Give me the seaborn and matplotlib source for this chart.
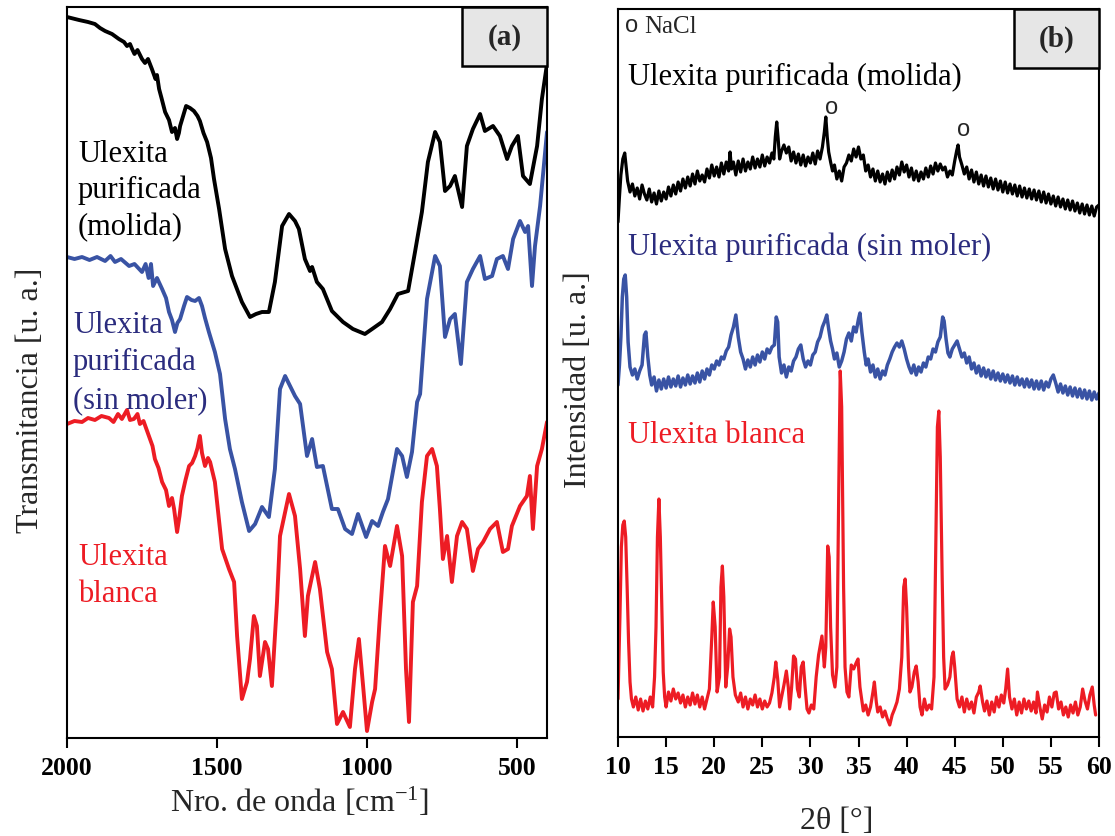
import matplotlib
matplotlib.use("Agg")
import matplotlib.pyplot as plt
import seaborn as sns
from matplotlib.patches import Rectangle

# ---------------- data: FTIR (panel a) ----------------
ftir_molida_w = [2000, 1960, 1930, 1907, 1890, 1873, 1850, 1827, 1810, 1800, 1790, 1783, 1775, 1765, 1750,
                 1740, 1730, 1717, 1705, 1700, 1693, 1685, 1673, 1660, 1650, 1640, 1633, 1627, 1623, 1603,
                 1590, 1577, 1565, 1557, 1545, 1533, 1520, 1510, 1493, 1473, 1450, 1417, 1390, 1370, 1350,
                 1327, 1307, 1283, 1260, 1240, 1227, 1207, 1190, 1183, 1167, 1147, 1117, 1080, 1047, 1007,
                 983, 950, 923, 897, 863, 840, 817, 797, 773, 757, 740, 723, 707, 683, 667, 647, 623, 607,
                 580, 557, 533, 517, 497, 480, 457, 433, 417, 400]
ftir_molida_t = [721, 718, 716, 714, 710, 707, 704, 699, 696, 692, 694, 689, 684, 688, 679,
                 675, 679, 669, 659, 663, 649, 640, 626, 618, 606, 610, 599, 605, 612, 632,
                 630, 627, 622, 617, 605, 596, 580, 559, 529, 489, 462, 436, 421, 424, 426,
                 426, 456, 512, 524, 517, 509, 479, 467, 471, 456, 449, 427, 416, 409, 404,
                 409, 416, 429, 444, 447, 486, 526, 576, 606, 596, 547, 552, 562, 531, 592, 609, 624, 607,
                 612, 602, 579, 592, 602, 562, 554, 592, 639, 674]

ftir_sinmoler_w = [2000, 1975, 1950, 1925, 1900, 1873, 1855, 1840, 1820, 1793, 1775, 1750, 1738, 1728, 1720,
                   1713, 1700, 1683, 1670, 1660, 1650, 1640, 1632, 1623, 1610, 1600, 1585, 1573, 1560, 1550,
                   1540, 1527, 1507, 1490, 1473, 1457, 1440, 1417, 1393, 1373, 1350, 1327, 1307, 1290, 1273,
                   1240, 1223, 1200, 1183, 1167, 1147, 1117, 1097, 1073, 1050, 1030, 1003, 983, 963, 947,
                   930, 900, 883, 867, 850, 833, 823, 800, 773, 757, 740, 723, 707, 687, 667, 647, 623, 607,
                   583, 567, 547, 530, 513, 490, 473, 463, 450, 440, 423, 400]
ftir_sinmoler_t = [481, 479, 481, 478, 481, 477, 482, 476, 479, 472, 474, 466, 474, 460, 474,
                   452, 460, 449, 440, 426, 418, 406, 415, 419, 432, 441, 438, 437, 440, 432,
                   420, 406, 386, 364, 319, 289, 269, 236, 207, 214, 231, 221, 269, 349, 362,
                   342, 334, 282, 299, 271, 272, 229, 229, 209, 204, 224, 201, 217, 212, 226,
                   239, 289, 282, 261, 286, 336, 344, 439, 482, 472, 401, 419, 424, 374, 456, 469, 482, 459,
                   462, 479, 482, 469, 499, 517, 506, 512, 452, 492, 532, 606]

ftir_blanca_w = [2000, 1975, 1950, 1930, 1907, 1885, 1860, 1845, 1830, 1817, 1800, 1790, 1777, 1765, 1757,
                 1745, 1727, 1715, 1707, 1695, 1683, 1670, 1660, 1650, 1643, 1633, 1625, 1617, 1605, 1593,
                 1583, 1573, 1565, 1557, 1550, 1540, 1530, 1523, 1507, 1483, 1460, 1443, 1433, 1417, 1400,
                 1390, 1377, 1367, 1357, 1340, 1330, 1317, 1300, 1290, 1260, 1240, 1223, 1207, 1197, 1173,
                 1157, 1133, 1117, 1100, 1080, 1057, 1040, 1027, 1013, 1000, 983, 973, 957, 940, 923,
                 900, 883, 870, 860, 847, 833, 817, 800, 783, 767, 757, 747, 733, 717, 700,
                 683, 667, 647, 630, 613, 590, 567, 547, 530, 517, 490, 467, 457, 447, 433, 417, 400]
ftir_blanca_t = [314, 317, 316, 320, 318, 322, 320, 316, 324, 319, 328, 318, 319, 324, 314,
                 317, 302, 292, 279, 270, 256, 248, 232, 240, 229, 206, 222, 242, 258, 272,
                 275, 282, 290, 302, 285, 272, 280, 276, 256, 189, 169, 156, 102, 39, 56,
                 79, 122, 112, 62, 96, 89, 52, 136, 202, 244, 222, 169, 102, 142, 176,
                 149, 86, 69, 14, 26, 11, 69, 99, 52, 7, 36, 49, 122, 192, 172,
                 212, 182, 69, 16, 136, 152, 236, 282, 289, 272, 229, 179, 202, 156, 202,
                 216, 209, 167, 189, 196, 209, 216, 186, 189, 212, 232, 242, 262, 209, 272, 289, 316]

ftir_ticks = [2000, 1500, 1000, 500]

# ---------------- data: XRD (panel b) ----------------
xrd_molida_2t = [10.0, 10.15, 10.3, 10.5, 10.7, 10.85, 11.0, 11.25, 11.5, 11.75, 12.0, 12.25, 12.5, 12.75,
                 13.0, 13.25, 13.5, 13.75, 14.0, 14.25, 14.5, 14.75, 15.0, 15.25, 15.5, 15.75, 16.0, 16.25,
                 16.5, 16.75, 17.0, 17.25, 17.5, 17.75, 18.0, 18.25, 18.5, 18.75, 19.0, 19.25, 19.5, 19.75,
                 20.0, 20.25, 20.5, 20.75, 21.0, 21.25, 21.5, 21.65, 21.8, 22.0, 22.25, 22.5, 22.75, 23.0,
                 23.25, 23.5, 23.75, 24.0, 24.25, 24.5, 24.75, 25.0, 25.25, 25.5, 25.75, 26.0, 26.2, 26.35,
                 26.5, 26.65, 26.8, 27.0, 27.25, 27.5, 27.75, 28.0, 28.25, 28.5, 28.75, 29.0, 29.25, 29.5,
                 29.75, 30.0, 30.25, 30.5, 30.75, 31.0, 31.25, 31.45, 31.6, 31.75, 31.9, 32.1, 32.3, 32.5,
                 32.75, 33.0, 33.25, 33.5, 33.75, 34.0, 34.25, 34.5, 34.75, 35.0, 35.25, 35.5, 35.75, 36.0,
                 36.25, 36.5, 36.75, 37.0, 37.25, 37.5, 37.75, 38.0, 38.25, 38.5, 38.75, 39.0, 39.25, 39.5,
                 39.75, 40.0, 40.25, 40.5, 40.75, 41.0, 41.25, 41.5, 41.75, 42.0, 42.25, 42.5, 42.75, 43.0,
                 43.25, 43.5, 43.75, 44.0, 44.25, 44.5, 44.75, 45.0, 45.2, 45.35, 45.5, 45.75, 46.0, 46.25,
                 46.5, 46.75, 47.0, 47.25, 47.5, 47.75, 48.0, 48.25, 48.5, 48.75, 49.0, 49.25, 49.5, 49.75,
                 50.0, 50.25, 50.5, 50.75, 51.0, 51.25, 51.5, 51.75, 52.0, 52.25, 52.5, 52.75, 53.0, 53.25,
                 53.5, 53.75, 54.0, 54.25, 54.5, 54.75, 55.0, 55.25, 55.5, 55.75, 56.0, 56.25, 56.5, 56.75,
                 57.0, 57.25, 57.5, 57.75, 58.0, 58.25, 58.5, 58.75, 59.0, 59.25, 59.5, 59.75, 60.0]
xrd_molida_i = [515, 540, 562, 578, 584, 570, 556, 545, 553, 541, 549, 538, 552, 543,
                537, 548, 535, 544, 533, 546, 536, 545, 538, 550, 541, 552, 543, 555,
                546, 558, 549, 560, 551, 563, 553, 566, 556, 562, 555, 568, 559, 572,
                561, 570, 560, 574, 563, 575, 566, 585, 568, 575, 562, 576, 565, 578,
                566, 575, 568, 580, 569, 578, 570, 582, 571, 580, 574, 584, 578, 600,
                615, 598, 578, 586, 592, 584, 590, 576, 585, 574, 583, 572, 582, 571,
                580, 574, 584, 573, 586, 578, 590, 605, 620, 600, 585, 575, 566, 572,
                558, 566, 556, 570, 574, 582, 576, 588, 580, 590, 578, 582, 566, 572,
                560, 568, 556, 566, 555, 563, 553, 565, 556, 567, 558, 570, 562, 575,
                565, 572, 560, 569, 557, 566, 556, 565, 558, 569, 560, 571, 563, 574,
                566, 573, 567, 570, 560, 566, 562, 576, 586, 592, 580, 572, 563, 570,
                558, 567, 555, 565, 553, 562, 551, 561, 550, 559, 548, 558, 547, 556,
                545, 555, 544, 553, 543, 552, 541, 551, 540, 549, 539, 548, 538, 547,
                537, 546, 535, 545, 534, 543, 533, 541, 531, 540, 530, 538, 528, 537,
                527, 536, 526, 534, 524, 533, 523, 532, 522, 531, 521, 530, 532]

xrd_sinmoler_2t = [10.0, 10.15, 10.3, 10.45, 10.6, 10.75, 10.9, 11.05, 11.25, 11.5, 11.75, 12.0, 12.25, 12.5,
                   12.75, 12.9, 13.1, 13.3, 13.5, 13.75, 14.0, 14.25, 14.5, 14.75, 15.0, 15.25, 15.5, 15.75,
                   16.0, 16.25, 16.5, 16.75, 17.0, 17.25, 17.5, 17.75, 18.0, 18.25, 18.5, 18.75, 19.0, 19.25,
                   19.5, 19.75, 20.0, 20.25, 20.5, 20.75, 21.0, 21.25, 21.5, 21.75, 22.0, 22.25, 22.5, 22.75,
                   23.0, 23.25, 23.5, 23.75, 24.0, 24.25, 24.5, 24.75, 25.0, 25.25, 25.5, 25.75, 26.0, 26.25,
                   26.45, 26.6, 26.75, 27.0, 27.25, 27.5, 27.75, 28.0, 28.25, 28.5, 28.75, 29.0, 29.25, 29.5,
                   29.75, 30.0, 30.25, 30.5, 30.75, 31.0, 31.25, 31.5, 31.7, 31.9, 32.1, 32.3, 32.5, 32.75,
                   33.0, 33.25, 33.5, 33.75, 34.0, 34.25, 34.5, 34.75, 35.0, 35.15, 35.35, 35.6, 35.8, 36.0,
                   36.25, 36.5, 36.75, 37.0, 37.25, 37.5, 37.75, 38.0, 38.25, 38.5, 38.75, 39.0, 39.25, 39.5,
                   39.75, 40.0, 40.25, 40.5, 40.75, 41.0, 41.25, 41.5, 41.75, 42.0, 42.25, 42.5, 42.75, 43.0,
                   43.25, 43.5, 43.75, 43.9, 44.1, 44.3, 44.5, 44.75, 45.0, 45.25, 45.5, 45.75, 46.0, 46.25,
                   46.5, 46.75, 47.0, 47.25, 47.5, 47.75, 48.0, 48.25, 48.5, 48.75, 49.0, 49.25, 49.5, 49.75,
                   50.0, 50.25, 50.5, 50.75, 51.0, 51.25, 51.5, 51.75, 52.0, 52.25, 52.5, 52.75, 53.0, 53.25,
                   53.5, 53.75, 54.0, 54.25, 54.5, 54.75, 55.0, 55.25, 55.5, 55.75, 56.0, 56.25, 56.5, 56.75,
                   57.0, 57.25, 57.5, 57.75, 58.0, 58.25, 58.5, 58.75, 59.0, 59.25, 59.5, 59.75, 60.0]
xrd_sinmoler_i = [352, 372, 400, 440, 458, 462, 440, 395, 370, 362, 368, 358, 366, 372,
                  402, 405, 380, 362, 352, 360, 346, 357, 348, 358, 349, 360, 350, 358,
                  351, 361, 350, 359, 352, 362, 353, 361, 354, 364, 355, 366, 358, 368,
                  362, 372, 368, 376, 372, 380, 378, 386, 390, 402, 410, 422, 400, 385,
                  378, 368, 377, 370, 380, 372, 382, 375, 385, 378, 388, 384, 390, 392,
                  420, 415, 380, 364, 372, 360, 370, 366, 376, 380, 388, 392, 378, 370,
                  376, 372, 382, 385, 395, 400, 410, 416, 422, 408, 396, 388, 378, 384,
                  370, 376, 385, 398, 404, 396, 410, 405, 418, 424, 405, 385, 372, 378,
                  365, 372, 360, 368, 358, 366, 362, 372, 378, 385, 390, 394, 390, 396,
                  388, 378, 370, 364, 372, 362, 370, 365, 374, 370, 380, 378, 388, 385,
                  395, 400, 420, 416, 398, 384, 380, 388, 392, 396, 388, 380, 384, 374,
                  380, 368, 374, 364, 371, 361, 369, 360, 367, 358, 366, 357, 364, 356,
                  363, 355, 362, 354, 361, 352, 360, 352, 358, 350, 358, 350, 357, 348,
                  356, 348, 356, 347, 355, 350, 358, 362, 354, 345, 353, 344, 351, 342,
                  350, 341, 349, 340, 348, 339, 347, 338, 346, 337, 345, 338, 344]

xrd_blanca_2t = [10.0, 10.1, 10.2, 10.35, 10.5, 10.65, 10.8, 10.95, 11.1, 11.25, 11.4, 11.6, 11.85, 12.1,
                 12.35, 12.6, 12.85, 13.1, 13.35, 13.6, 13.8, 13.95, 14.1, 14.25, 14.4, 14.55, 14.7, 14.85,
                 15.0, 15.25, 15.5, 15.75, 16.0, 16.25, 16.5, 16.75, 17.0, 17.25, 17.5, 17.75, 18.0, 18.25,
                 18.5, 18.75, 19.0, 19.25, 19.5, 19.75, 19.9, 20.1, 20.3, 20.55, 20.7, 20.85, 21.0, 21.2,
                 21.4, 21.6, 21.75, 21.95, 22.2, 22.5, 22.75, 23.0, 23.25, 23.5, 23.75, 24.0, 24.25, 24.5,
                 24.75, 25.0, 25.25, 25.5, 25.75, 26.0, 26.25, 26.4, 26.6, 26.8, 27.0, 27.25, 27.5, 27.7,
                 27.85, 28.05, 28.25, 28.45, 28.65, 28.85, 29.05, 29.25, 29.45, 29.65, 29.85, 30.1, 30.35,
                 30.6, 30.85, 31.0, 31.2, 31.45, 31.6, 31.8, 31.95, 32.1, 32.3, 32.55, 32.75, 32.95, 33.1,
                 33.25, 33.45, 33.6, 33.8, 34.0, 34.25, 34.5, 34.75, 34.95, 35.15, 35.3, 35.5, 35.75, 36.0,
                 36.25, 36.5, 36.65, 36.85, 37.0, 37.25, 37.5, 37.75, 38.0, 38.25, 38.5, 38.75, 39.0, 39.25,
                 39.5, 39.7, 39.85, 40.0, 40.2, 40.35, 40.55, 40.8, 41.0, 41.2, 41.4, 41.6, 41.85, 42.1,
                 42.35, 42.6, 42.85, 43.05, 43.2, 43.35, 43.5, 43.7, 43.85, 44.0, 44.25, 44.5, 44.7, 44.85,
                 45.0, 45.25, 45.5, 45.75, 46.0, 46.25, 46.5, 46.75, 47.0, 47.25, 47.5, 47.65, 47.9, 48.1,
                 48.35, 48.6, 48.85, 49.1, 49.35, 49.6, 49.85, 50.1, 50.3, 50.5, 50.7, 50.95, 51.2, 51.45,
                 51.7, 51.95, 52.2, 52.45, 52.7, 52.95, 53.2, 53.45, 53.6, 53.85, 54.1, 54.35, 54.6, 54.85,
                 55.1, 55.35, 55.55, 55.8, 56.05, 56.3, 56.55, 56.8, 57.05, 57.3, 57.55, 57.8, 58.05, 58.3,
                 58.55, 58.8, 59.05, 59.3, 59.5, 59.65]
xrd_blanca_i = [38, 80, 120, 190, 212, 216, 200, 150, 95, 55, 38, 30, 40, 27,
                38, 26, 36, 28, 40, 30, 60, 110, 200, 238, 200, 130, 65, 40,
                30, 45, 36, 48, 38, 44, 34, 42, 30, 40, 32, 44, 33, 42,
                30, 40, 28, 38, 48, 100, 135, 110, 45, 60, 150, 171, 140, 50,
                70, 108, 100, 60, 42, 35, 44, 30, 40, 28, 38, 32, 42, 30,
                38, 28, 36, 30, 34, 44, 60, 75, 58, 30, 40, 52, 66, 50,
                28, 50, 81, 78, 48, 40, 70, 75, 50, 28, 24, 32, 28,
                60, 82, 90, 101, 70, 90, 191, 180, 110, 62, 50, 70, 250, 366,
                330, 150, 70, 45, 40, 72, 68, 74, 78, 50, 40, 26, 32, 22,
                30, 45, 55, 35, 25, 30, 20, 26, 18, 12, 22, 28, 35, 48,
                80, 150, 158, 130, 70, 45, 50, 65, 71, 55, 30, 22, 38, 27,
                32, 28, 60, 200, 310, 326, 280, 158, 80, 48, 52, 60, 80, 85,
                70, 38, 30, 40, 25, 38, 28, 35, 24, 40, 45, 51, 35, 26,
                36, 22, 35, 25, 40, 30, 42, 34, 48, 68, 40, 28, 38, 22,
                35, 24, 38, 28, 36, 26, 35, 24, 45, 30, 18, 32, 25, 40,
                30, 44, 45, 28, 35, 22, 30, 20, 32, 24, 35, 22, 30, 48,
                36, 28, 42, 50, 32, 22]

xrd_ticks = [10, 15, 20, 25, 30, 35, 40, 45, 50, 55, 60]
nacl_peaks = [(32.2, 630), (45.9, 608)]

# ---------------- style ----------------
sns.set_style("ticks")
plt.rcParams['font.family'] = ['Liberation Serif', 'DejaVu Serif']
plt.rcParams['mathtext.fontset'] = 'custom'
plt.rcParams['mathtext.rm'] = 'Liberation Serif'
plt.rcParams['mathtext.it'] = 'Liberation Serif:italic'
plt.rcParams['mathtext.bf'] = 'Liberation Serif:bold'

BLACK = '#000000'
BLUE = '#3953A4'
NAVY = '#2B2C7E'
RED = '#ED1C24'

W, H = 1115, 837
fig = plt.figure(figsize=(W / 100, H / 100), dpi=100)


def fx(px):
    return px / W


def fy(py):
    return 1 - py / H


axA = fig.add_axes([fx(67), fy(739), 480 / W, 731 / H])
axB = fig.add_axes([fx(618), fy(738), 481 / W, 728 / H])

# panel a
sns.lineplot(x=ftir_molida_w, y=ftir_molida_t, ax=axA, color=BLACK, lw=2.8, errorbar=None, estimator=None)
sns.lineplot(x=ftir_sinmoler_w, y=ftir_sinmoler_t, ax=axA, color=BLUE, lw=2.8, errorbar=None, estimator=None)
sns.lineplot(x=ftir_blanca_w, y=ftir_blanca_t, ax=axA, color=RED, lw=2.8, errorbar=None, estimator=None)
axA.set_xlim(2000, 400)
axA.set_ylim(0, 731)
axA.set_xticks(ftir_ticks)
axA.set_yticks([])

# panel b
sns.lineplot(x=xrd_molida_2t, y=xrd_molida_i, ax=axB, color=BLACK, lw=2.3, errorbar=None, estimator=None)
sns.lineplot(x=xrd_sinmoler_2t, y=xrd_sinmoler_i, ax=axB, color=BLUE, lw=2.5, errorbar=None, estimator=None)
sns.lineplot(x=xrd_blanca_2t, y=xrd_blanca_i, ax=axB, color=RED, lw=2.3, errorbar=None, estimator=None)
axB.set_xlim(10, 60)
axB.set_ylim(0, 728)
axB.set_xticks(xrd_ticks)
axB.set_yticks([])

for ax in (axA, axB):
    ax.set_xlabel('')
    ax.set_ylabel('')
    for s in ax.spines.values():
        s.set_visible(True)
        s.set_linewidth(1.5)
        s.set_color('black')
    ax.tick_params(axis='x', direction='out', length=7, width=1.5, pad=6,
                   labelsize=18.5, colors='black')
    for lab in ax.get_xticklabels():
        lab.set_fontweight('bold')

# boxes (a), (b)
for ax, lab in ((axA, '(a)'), (axB, '(b)')):
    ax.add_patch(Rectangle((0.823, 0.919), 0.177, 0.081, transform=ax.transAxes,
                           facecolor='#E6E6E6', edgecolor='black', lw=1.8, zorder=5, clip_on=False))
    ax.text(0.9115, 0.9595, lab, transform=ax.transAxes, ha='center', va='center',
            fontsize=21, fontweight='bold', zorder=6)

# axis titles
fig.text(fx(31), fy(400), 'Transmitancia [u. a.]', rotation=90, ha='center', va='center', fontsize=23)
fig.text(fx(300), fy(812), 'Nro. de onda [cm$^{-1}$]', ha='center', va='baseline', fontsize=23)
fig.text(fx(578), fy(380), 'Intensidad [u. a.]', rotation=90, ha='center', va='center', fontsize=23)
fig.text(fx(837), fy(829), '2θ [°]', ha='center', va='baseline', fontsize=23)

# series labels panel a
fs = 22
for txt, yb in (('Ulexita', 162), ('purificada', 198), ('(molida)', 235)):
    fig.text(fx(78), fy(yb), txt, color=BLACK, fontsize=fs, va='baseline')
for txt, yb in (('Ulexita', 333), ('purificada', 370), ('(sin moler)', 408)):
    fig.text(fx(73), fy(yb), txt, color=NAVY, fontsize=fs, va='baseline')
for txt, yb in (('Ulexita', 565), ('blanca', 602)):
    fig.text(fx(78), fy(yb), txt, color=RED, fontsize=fs, va='baseline')

# series labels panel b
fig.text(fx(628), fy(85), 'Ulexita purificada (molida)', color=BLACK, fontsize=fs, va='baseline')
fig.text(fx(628), fy(255), 'Ulexita purificada (sin moler)', color=NAVY, fontsize=fs, va='baseline')
fig.text(fx(628), fy(443), 'Ulexita blanca', color=RED, fontsize=fs, va='baseline')

fig.text(fx(632), fy(26), 'o', family='Liberation Sans', fontsize=17, ha='center', va='center')
fig.text(fx(644), fy(33), 'NaCl', fontsize=18, va='baseline')
for x2t, yv in nacl_peaks:
    axB.text(x2t, yv, 'o', family='Liberation Sans', fontsize=17, ha='center', va='center')

fig.savefig('out.png', dpi=100)
